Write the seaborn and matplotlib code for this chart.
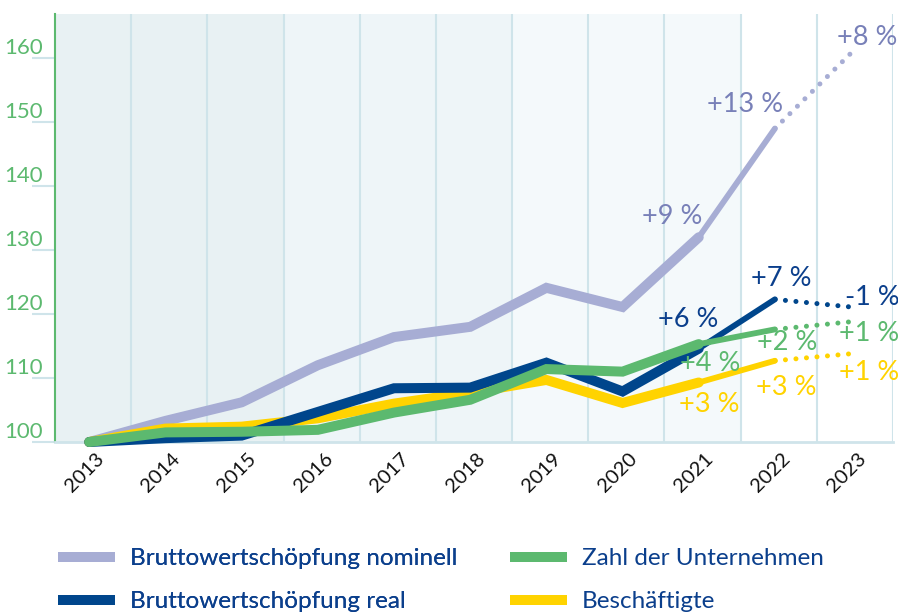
import matplotlib
matplotlib.use('Agg')
import pandas as pd
import matplotlib.pyplot as plt
import matplotlib.transforms as mtransforms
from matplotlib.lines import Line2D
import seaborn as sns

# index values, 2013 = 100
years = [2013, 2014, 2015, 2016, 2017, 2018, 2019, 2020, 2021, 2022, 2023]
bws_nominal = [100, 103.3, 106.2, 112.0, 116.4, 118.0, 124.1, 121.1, 132.0, 149.0, 160.8]
bws_real = [100, 100.6, 101.0, 104.7, 108.4, 108.5, 112.4, 107.9, 114.6, 122.3, 121.1]
unternehmen = [100, 101.5, 101.6, 101.9, 104.6, 106.6, 111.4, 111.0, 115.3, 117.6, 118.8]
beschaeftigte = [100, 102.1, 102.4, 103.7, 106.0, 107.7, 109.7, 106.1, 109.3, 112.7, 113.8]

series_names = ['Bruttowertschöpfung nominell', 'Bruttowertschöpfung real',
                'Zahl der Unternehmen', 'Beschäftigte']

# change labels for 2021, 2022, 2023
labels_nominal = ['+9 %', '+13 %', '+8 %']
labels_real = ['+6 %', '+7 %', '-1 %']
labels_unternehmen = ['+4 %', '+2 %', '+1 %']
labels_beschaeftigte = ['+3 %', '+3 %', '+1 %']

yticks = [100, 110, 120, 130, 140, 150, 160]

df = pd.DataFrame({
    'year': years,
    series_names[0]: bws_nominal,
    series_names[1]: bws_real,
    series_names[2]: unternehmen,
    series_names[3]: beschaeftigte,
})
df['pos'] = range(len(df))

line_colors = {series_names[0]: '#a7add4', series_names[1]: '#00468c',
               series_names[2]: '#5cb96f', series_names[3]: '#ffd300'}
text_colors = {series_names[0]: '#7880b8', series_names[1]: '#0b3f8c',
               series_names[2]: '#5cb96f', series_names[3]: '#ffd300'}
zorders = {series_names[0]: 3, series_names[1]: 5, series_names[2]: 6, series_names[3]: 4}
change_labels = {series_names[0]: labels_nominal, series_names[1]: labels_real,
                 series_names[2]: labels_unternehmen, series_names[3]: labels_beschaeftigte}
# label offsets in pixels from the 2021/2022/2023 points
label_offsets = {
    series_names[0]: [(-27, 21), (-30, 24), (16, 16)],
    series_names[1]: [(-11, 29), (6, 21), (21, 10)],
    series_names[2]: [(11, -19), (12, -13), (18, -12)],
    series_names[3]: [(11, -22), (11, -27), (18, -19)],
}

sns.set_style('white')
plt.rcParams['font.family'] = ['Lato', 'DejaVu Sans']

fig = plt.figure(figsize=(8.98, 6.12), dpi=100)
ax = fig.add_axes([55 / 898, 1 - 442 / 612, 838 / 898, 428 / 612])

x0, x1 = -0.45, 10.55
ax.set_xlim(x0, x1)
ax.set_ylim(100, 166.9)

# shaded background columns
shades = ['#e8f1f3'] * 3 + ['#eef5f8'] * 3 + ['#f4f9fb'] * 3 + ['#ffffff'] * 2
for k, c in enumerate(shades):
    ax.axvspan(x0 + k, x0 + k + 1, color=c, lw=0, zorder=0)
for k in range(1, 12):
    ax.axvline(x0 + k, color='#cfe4ea', lw=1.5, zorder=1)

for name in series_names:
    col = line_colors[name]
    z = zorders[name]
    solid = df.iloc[0:9]
    mid = df.iloc[8:10]
    dots = df.iloc[9:11]
    sns.lineplot(data=solid, x='pos', y=name, ax=ax, color=col, lw=7.2, sort=False,
                 solid_capstyle='round', solid_joinstyle='miter', clip_on=False, zorder=z)
    sns.lineplot(data=mid, x='pos', y=name, ax=ax, color=col, lw=4.2, sort=False,
                 solid_capstyle='round', clip_on=False, zorder=z)
    sns.lineplot(data=dots, x='pos', y=name, ax=ax, color=col, lw=3.6, sort=False,
                 linestyle=(0, (0.01, 2.1)), dash_capstyle='round', clip_on=False, zorder=z)
    for i, (txt, off) in enumerate(zip(change_labels[name], label_offsets[name])):
        idx = 8 + i
        ax.annotate(txt, (df['pos'][idx], df[name][idx]), xytext=off,
                    textcoords='offset pixels', ha='center', va='center',
                    fontsize=19.5, color=text_colors[name], zorder=8, annotation_clip=False)

ax.set_xlabel('')
ax.set_ylabel('')

# axes styling
for s in ['top', 'right']:
    ax.spines[s].set_visible(False)
ax.spines['left'].set_color('#5cb96f')
ax.spines['left'].set_linewidth(1.5)
ax.spines['bottom'].set_color('#cfe4ea')
ax.spines['bottom'].set_linewidth(2)

ax.set_yticks(yticks)
ax.set_yticklabels([str(v) for v in yticks])
ax.tick_params(axis='y', left=True, length=16.5, width=1.5, color='#cfe4ea',
               labelcolor='#5cb96f', labelsize=16, pad=-8)
for lab in ax.get_yticklabels():
    lab.set_va('bottom')

ax.set_xticks(range(len(years)))
ax.set_xticklabels([str(y) for y in years], rotation=45, ha='right',
                   rotation_mode='anchor', va='top')
ax.tick_params(axis='x', bottom=True, length=0, labelsize=14.5, labelcolor='#111111', pad=6)
shift = mtransforms.ScaledTranslation(6 / 100, 0, fig.dpi_scale_trans)
for lab in ax.get_xticklabels():
    lab.set_transform(lab.get_transform() + shift)

# legend in two columns
handles = [Line2D([], [], color=line_colors[n], lw=7.2, solid_capstyle='butt') for n in series_names]
leg_kw = dict(loc='upper left', frameon=False, handlelength=2.35, handletextpad=0.62,
              labelspacing=0.92, fontsize=17.5, labelcolor='#0b3f8c',
              borderpad=0, borderaxespad=0)
leg1 = fig.legend(handles[:2], series_names[:2], bbox_to_anchor=(58 / 898, 1 - 548 / 612), **leg_kw)
fig.add_artist(leg1)
fig.legend(handles[2:], series_names[2:], bbox_to_anchor=(510 / 898, 1 - 548 / 612), **leg_kw)

fig.savefig('out.png', dpi=100)
